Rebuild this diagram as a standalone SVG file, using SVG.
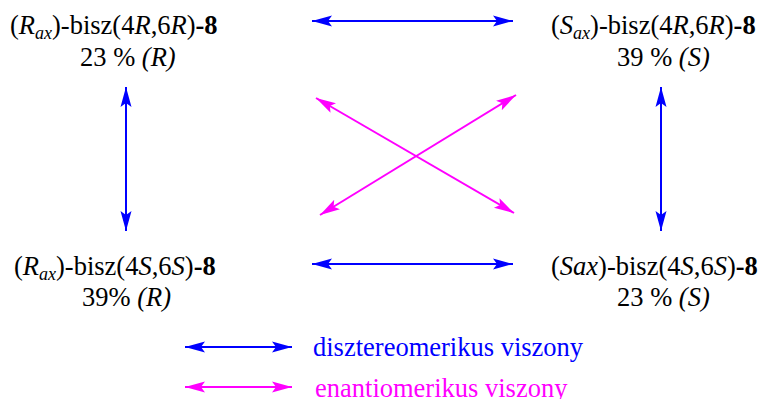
<svg xmlns="http://www.w3.org/2000/svg" width="761" height="399" viewBox="0 0 761 399">
<style>
.t{font-family:'Liberation Serif','Times New Roman',serif;font-size:26.5px;fill:#000}
.i{font-style:italic}
.b{font-weight:bold}
.sub{font-style:italic;font-size:18px}
.blue{stroke:#0000ff;stroke-width:2;fill:none}
.pink{stroke:#ff00ff;stroke-width:2;fill:none}
.lb{fill:#0000ff}
.lp{fill:#ff00ff}
</style>
<defs>
<marker id="ab" markerUnits="userSpaceOnUse" markerWidth="22" markerHeight="14" viewBox="0 -7 22 14" refX="20" refY="0" orient="auto-start-reverse">
<path d="M0,-5.5 L20,0 L0,5.5 L4,0 Z" fill="#0000ff"/>
</marker>
<marker id="ap" markerUnits="userSpaceOnUse" markerWidth="22" markerHeight="14" viewBox="0 -7 22 14" refX="20" refY="0" orient="auto-start-reverse">
<path d="M0,-5.5 L20,0 L0,5.5 L4,0 Z" fill="#ff00ff"/>
</marker>
</defs>
<g id="connectors">
<line class="blue" x1="312" y1="21" x2="513" y2="21" marker-start="url(#ab)" marker-end="url(#ab)"/>
<line class="blue" x1="312" y1="264" x2="513" y2="264" marker-start="url(#ab)" marker-end="url(#ab)"/>
<line class="blue" x1="126" y1="87" x2="126" y2="231" marker-start="url(#ab)" marker-end="url(#ab)"/>
<line class="blue" x1="661" y1="87" x2="661" y2="231" marker-start="url(#ab)" marker-end="url(#ab)"/>
<line class="pink" x1="316" y1="98" x2="514" y2="213" marker-start="url(#ap)" marker-end="url(#ap)"/>
<line class="pink" x1="320" y1="215" x2="516" y2="95" marker-start="url(#ap)" marker-end="url(#ap)"/>
</g>
<g id="node-rr">
<text class="t" x="10" y="34">(<tspan class="i">R</tspan><tspan class="sub" dy="5">ax</tspan><tspan dy="-5">)-bisz(4</tspan><tspan class="i">R</tspan>,6<tspan class="i">R</tspan>)<tspan class="b">-8</tspan></text>
<text class="t" x="80" y="66">23 % <tspan class="i">(R)</tspan></text>
</g>
<g id="node-sr">
<text class="t" x="551" y="34">(<tspan class="i">S</tspan><tspan class="sub" dy="5">ax</tspan><tspan dy="-5">)-bisz(4</tspan><tspan class="i">R</tspan>,6<tspan class="i">R</tspan>)<tspan class="b">-8</tspan></text>
<text class="t" x="617" y="66">39 % <tspan class="i">(S)</tspan></text>
</g>
<g id="node-rs">
<text class="t" x="14" y="275">(<tspan class="i">R</tspan><tspan class="sub" dy="5">ax</tspan><tspan dy="-5">)-bisz(4</tspan><tspan class="i">S</tspan>,6<tspan class="i">S</tspan>)<tspan class="b">-8</tspan></text>
<text class="t" x="82" y="306">39% <tspan class="i">(R)</tspan></text>
</g>
<g id="node-ss">
<text class="t" x="551" y="275">(<tspan class="i">Sax</tspan>)-bisz(4<tspan class="i">S</tspan>,6<tspan class="i">S</tspan>)<tspan class="b">-8</tspan></text>
<text class="t" x="617" y="306">23 % <tspan class="i">(S)</tspan></text>
</g>
<g id="legend">
<line class="blue" x1="185" y1="347" x2="292" y2="347" marker-start="url(#ab)" marker-end="url(#ab)"/>
<line class="pink" x1="185" y1="387" x2="292" y2="387" marker-start="url(#ap)" marker-end="url(#ap)"/>
<text class="t lb" x="313" y="356">disztereomerikus viszony</text>
<text class="t lp" x="315" y="397">enantiomerikus viszony</text>
</g>
</svg>
